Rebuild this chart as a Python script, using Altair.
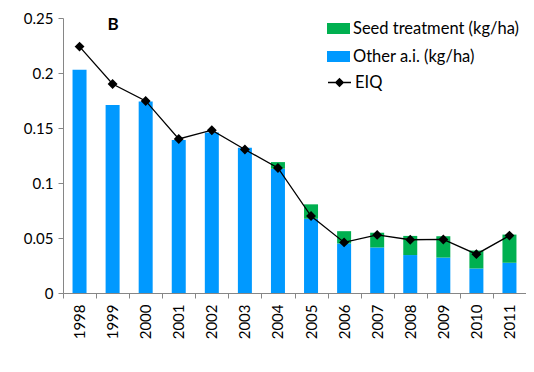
import altair as alt
import pandas as pd

years = [str(y) for y in range(1998, 2012)]
other_ai = [0.203, 0.171, 0.174, 0.139, 0.146, 0.132, 0.113, 0.0675, 0.045, 0.0414, 0.0345, 0.0322, 0.0223, 0.0275]
seed = [0, 0, 0, 0, 0, 0, 0.006, 0.0131, 0.0112, 0.0134, 0.0174, 0.0194, 0.0163, 0.0256]
eiq = [0.224, 0.190, 0.1746, 0.140, 0.148, 0.1305, 0.1137, 0.070, 0.046, 0.0528, 0.0484, 0.0487, 0.0353, 0.0522]

S_SEED = "Seed treatment (kg/ha)"
S_OTHER = "Other a.i. (kg/ha)"

rows = []
for y, o, s in zip(years, other_ai, seed):
    rows.append({"year": y, "series": S_OTHER, "value": o, "ord": 0})
    rows.append({"year": y, "series": S_SEED, "value": s, "ord": 1})
bars_df = pd.DataFrame(rows)
line_df = pd.DataFrame({"year": years, "eiq": eiq, "s": ["EIQ"] * len(years)})

FONT = "Lato"
AX = "#868686"

x_enc = alt.X(
    "year:N",
    title=None,
    scale=alt.Scale(paddingInner=0, paddingOuter=0),
    axis=alt.Axis(labelAngle=-90, labelFont=FONT, labelFontSize=15, labelColor="black",
                  domainColor=AX, tickColor=AX, tickSize=5, tickBand="extent",
                  labelPadding=6, labelBaseline="middle", labelAlign="right"),
)
y_scale = alt.Scale(domain=[0, 0.25], nice=False)
y_axis = alt.Axis(values=[0, 0.05, 0.1, 0.15, 0.2, 0.25], format="~g", grid=False,
                  labelFont=FONT, labelFontSize=15, labelColor="black",
                  domainColor=AX, tickColor=AX, tickSize=5, labelPadding=5)

bars = alt.Chart(bars_df).mark_bar(size=14).encode(
    x=x_enc,
    y=alt.Y("sum(value):Q", title=None, scale=y_scale, axis=y_axis, stack="zero"),
    color=alt.Color("series:N",
                    scale=alt.Scale(domain=[S_SEED, S_OTHER], range=["#00B050", "#0099FF"]),
                    legend=alt.Legend(orient="none", legendX=264, legendY=-1, title=None,
                                      symbolType="M-1,-0.48H1V0.48H-1Z", symbolSize=529,
                                      symbolStrokeWidth=0, labelFont=FONT, labelFontSize=16.5,
                                      labelLimit=400, labelOffset=3, rowPadding=8, padding=0)),
    order=alt.Order("ord:Q", sort="ascending"),
)

line = alt.Chart(line_df).mark_line(
    color="black", strokeWidth=1.3,
    point=alt.OverlayMarkDef(shape="diamond", filled=True, size=50, color="black"),
).encode(
    x=alt.X("year:N"),
    y=alt.Y("eiq:Q", scale=y_scale),
    stroke=alt.Stroke("s:N", scale=alt.Scale(domain=["EIQ"], range=["black"]),
                      legend=alt.Legend(orient="none", legendX=264, legendY=52, title=None,
                                        symbolType="M-1,0H1M0,-0.33L0.33,0L0,0.33L-0.33,0Z",
                                        symbolSize=529, symbolFillColor="black",
                                        symbolStrokeColor="black", symbolStrokeWidth=1.3,
                                        labelFont=FONT, labelFontSize=16.5, labelLimit=400,
                                        labelOffset=3, padding=0)),
)

label = alt.Chart(pd.DataFrame({"t": ["B"]})).mark_text(
    font=FONT, fontSize=17, fontWeight="bold", color="black"
).encode(text="t:N", x=alt.value(50), y=alt.value(7))

chart = alt.layer(bars, line, label).resolve_scale(color="independent").properties(
    width=463, height=275,
    autosize=alt.AutoSizeParams(type="none"),
    padding={"left": 55, "top": 10, "right": 0, "bottom": 60},
).configure_view(stroke=None)

chart.save("out.html", embed_options={"renderer": "svg", "actions": False})
